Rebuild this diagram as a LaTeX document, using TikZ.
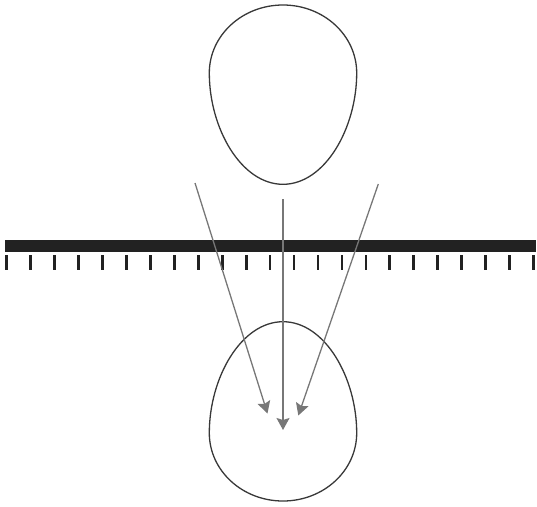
\documentclass[tikz,border=0pt]{standalone}
\usepackage{xcolor}
\usepackage{tikz}
\usetikzlibrary{arrows.meta}
\definecolor{inkdark}{HTML}{222222}
\definecolor{raygray}{HTML}{777777}
\tikzset{
  eggline/.style={draw=inkdark!90,line width=1.3pt},
  scalebar/.style={fill=inkdark,draw=none},
  scaletick/.style={draw=inkdark,line width=2.8pt},
  ray/.style={-{Stealth[length=12pt,width=13pt,inset=2pt]},line width=1.3pt,raygray},
  egg/.pic={
    \draw[eggline] (0,-68) .. controls (40.7,-68) and (73.7,-37.6) .. (73.7,0)
      .. controls (73.7,55) and (42,111.3) .. (0,111.3)
      .. controls (-42,111.3) and (-73.7,55) .. (-73.7,0)
      .. controls (-73.7,-37.6) and (-40.7,-68) .. cycle;
  },
}

\begin{document}
\begin{tikzpicture}[x=1pt,y=-1pt]
  \useasboundingbox (0,0) rectangle (537,506);
  % object above, image below
  \pic (object) at (283,73) {egg};
  \pic[yscale=-1] (image) at (283,433) {egg};
  % the lens plane with its tick marks
  \fill[scalebar] (5,240) rectangle (535.5,252);
  \foreach \i in {0,...,22}
    \draw[scaletick] ({6.5+23.96*\i},255) -- ({6.5+23.96*\i},270);
  \coordinate (lsrc) at (195,183);
  \coordinate (csrc) at (283,199);
  \coordinate (rsrc) at (378.3,184);
  \coordinate (ltip) at (267.5,413.5);
  \coordinate (ctip) at (283,430);
  \coordinate (rtip) at (298.3,415.5);
  \draw[ray] (lsrc) -- (ltip);
  \draw[ray] (csrc) -- (ctip);
  \draw[ray] (rsrc) -- (rtip);
\end{tikzpicture}
\end{document}
